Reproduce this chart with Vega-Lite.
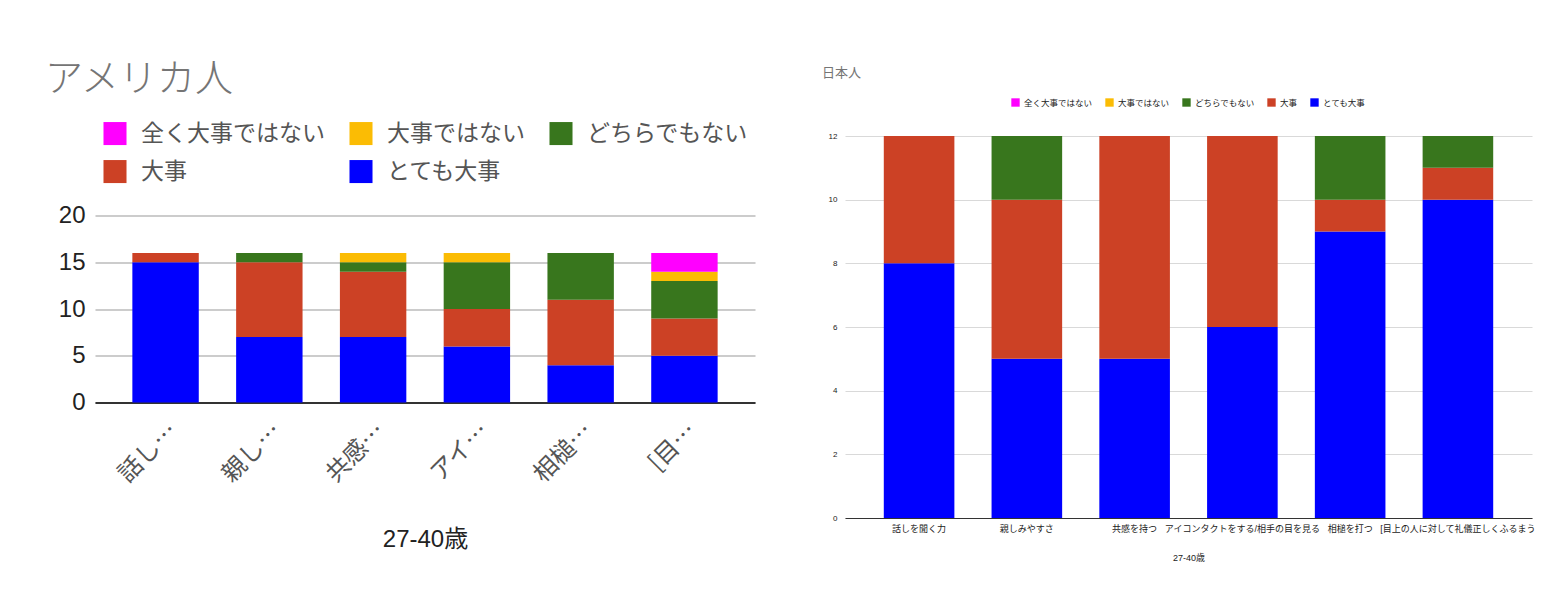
{
  "$schema": "https://vega.github.io/schema/vega-lite/v6.json",
  "background": "white",
  "padding": {"left": 45, "top": 60, "right": 0, "bottom": 0},
  "spacing": 67,
  "center": true,
  "config": {
    "font": "Liberation Sans, Noto Sans CJK JP",
    "view": {"stroke": null},
    "axis": {"labelColor": "#222", "titleColor": "#222", "titleFontWeight": "normal", "ticks": false},
    "legend": {"layout": {"top": {"anchor": "middle"}}}
  },
  "datasets": {
    "us": [
      {"item": "話しを聞く力", "answer": "とても大事", "level": 5, "count": 15},
      {"item": "話しを聞く力", "answer": "大事", "level": 4, "count": 1},
      {"item": "親しみやすさ", "answer": "とても大事", "level": 5, "count": 7},
      {"item": "親しみやすさ", "answer": "大事", "level": 4, "count": 8},
      {"item": "親しみやすさ", "answer": "どちらでもない", "level": 3, "count": 1},
      {"item": "共感を持つ", "answer": "とても大事", "level": 5, "count": 7},
      {"item": "共感を持つ", "answer": "大事", "level": 4, "count": 7},
      {"item": "共感を持つ", "answer": "どちらでもない", "level": 3, "count": 1},
      {"item": "共感を持つ", "answer": "大事ではない", "level": 2, "count": 1},
      {"item": "アイコンタクトをする/相手の目を見る", "answer": "とても大事", "level": 5, "count": 6},
      {"item": "アイコンタクトをする/相手の目を見る", "answer": "大事", "level": 4, "count": 4},
      {"item": "アイコンタクトをする/相手の目を見る", "answer": "どちらでもない", "level": 3, "count": 5},
      {"item": "アイコンタクトをする/相手の目を見る", "answer": "大事ではない", "level": 2, "count": 1},
      {"item": "相槌を打つ", "answer": "とても大事", "level": 5, "count": 4},
      {"item": "相槌を打つ", "answer": "大事", "level": 4, "count": 7},
      {"item": "相槌を打つ", "answer": "どちらでもない", "level": 3, "count": 5},
      {"item": "[目上の人に対して礼儀正しくふるまう", "answer": "とても大事", "level": 5, "count": 5},
      {"item": "[目上の人に対して礼儀正しくふるまう", "answer": "大事", "level": 4, "count": 4},
      {"item": "[目上の人に対して礼儀正しくふるまう", "answer": "どちらでもない", "level": 3, "count": 4},
      {"item": "[目上の人に対して礼儀正しくふるまう", "answer": "大事ではない", "level": 2, "count": 1},
      {"item": "[目上の人に対して礼儀正しくふるまう", "answer": "全く大事ではない", "level": 1, "count": 2}
    ],
    "jp": [
      {"item": "話しを聞く力", "answer": "とても大事", "level": 5, "count": 8},
      {"item": "話しを聞く力", "answer": "大事", "level": 4, "count": 4},
      {"item": "親しみやすさ", "answer": "とても大事", "level": 5, "count": 5},
      {"item": "親しみやすさ", "answer": "大事", "level": 4, "count": 5},
      {"item": "親しみやすさ", "answer": "どちらでもない", "level": 3, "count": 2},
      {"item": "共感を持つ", "answer": "とても大事", "level": 5, "count": 5},
      {"item": "共感を持つ", "answer": "大事", "level": 4, "count": 7},
      {"item": "アイコンタクトをする/相手の目を見る", "answer": "とても大事", "level": 5, "count": 6},
      {"item": "アイコンタクトをする/相手の目を見る", "answer": "大事", "level": 4, "count": 6},
      {"item": "相槌を打つ", "answer": "とても大事", "level": 5, "count": 9},
      {"item": "相槌を打つ", "answer": "大事", "level": 4, "count": 1},
      {"item": "相槌を打つ", "answer": "どちらでもない", "level": 3, "count": 2},
      {"item": "[目上の人に対して礼儀正しくふるまう", "answer": "とても大事", "level": 5, "count": 10},
      {"item": "[目上の人に対して礼儀正しくふるまう", "answer": "大事", "level": 4, "count": 1},
      {"item": "[目上の人に対して礼儀正しくふるまう", "answer": "どちらでもない", "level": 3, "count": 1}
    ]
  },
  "resolve": {"scale": {"color": "independent", "y": "independent", "x": "independent"}, "legend": {"color": "independent"}},
  "hconcat": [
    {
      "data": {"name": "us"},
      "width": 660,
      "height": 187,
      "title": {"text": "アメリカ人", "fontSize": 38, "fontWeight": 300, "color": "#757575", "anchor": "start", "frame": "group", "dx": -50, "offset": 23, "font": "Noto Sans CJK JP"},
      "mark": {"type": "bar"},
      "encoding": {
        "x": {
          "field": "item", "type": "nominal", "sort": null,
          "scale": {"paddingInner": 0.36, "paddingOuter": 0.36},
          "axis": {"title": "27-40歳", "titleFontSize": 24, "titlePadding": 41,
                   "labelAngle": -45, "labelFontSize": 24, "labelColor": "#555", "labelPadding": 16, "labelFont": "Noto Sans CJK JP",
                   "labelExpr": "substring(datum.label, 0, 2) + '…'",
                   "domainColor": "#333", "domainWidth": 2}
        },
        "y": {
          "field": "count", "type": "quantitative", "aggregate": "sum",
          "scale": {"domain": [0, 20]},
          "axis": {"title": null, "values": [0, 5, 10, 15, 20], "labelFontSize": 24,
                   "labelPadding": 10, "domain": false, "gridColor": "#cccccc", "gridWidth": 2}
        },
        "color": {
          "field": "answer", "type": "nominal",
          "scale": {"domain": ["全く大事ではない", "大事ではない", "どちらでもない", "大事", "とても大事"],
                    "range": ["#ff00ff", "#fbbc04", "#38761d", "#cc4125", "#0000ff"]},
          "legend": {"title": null, "orient": "top", "columns": 3, "labelFontSize": 23, "labelColor": "#555", "labelFont": "Noto Sans CJK JP",
                     "labelLimit": 400, "labelOffset": 14,
                     "symbolType": "square", "symbolSize": 530, "symbolStrokeWidth": 0, "symbolOpacity": 1,
                     "columnPadding": 24, "rowPadding": 14, "offset": 32}
        },
        "order": {"field": "level", "type": "quantitative", "sort": "descending"}
      }
    },
    {
      "data": {"name": "jp"},
      "width": 687,
      "height": 382,
      "title": {"text": "日本人", "fontSize": 13, "fontWeight": "normal", "color": "#757575", "anchor": "start", "frame": "group", "dx": -23, "offset": 18},
      "mark": {"type": "bar"},
      "encoding": {
        "x": {
          "field": "item", "type": "nominal", "sort": null,
          "scale": {"paddingInner": 0.345, "paddingOuter": 0.36},
          "axis": {"title": ["27-40歳", ""], "titleFontSize": 9, "titlePadding": 20, "titleLineHeight": 69,
                   "labelAngle": 0, "labelFontSize": 9, "labelPadding": 6, "labelLimit": 200,
                   "domainColor": "#333", "domainWidth": 1}
        },
        "y": {
          "field": "count", "type": "quantitative", "aggregate": "sum",
          "scale": {"domain": [0, 12]},
          "axis": {"title": null, "values": [0, 2, 4, 6, 8, 10, 12], "labelFontSize": 8,
                   "labelPadding": 8, "domain": false, "gridColor": "#d9d9d9", "gridWidth": 1}
        },
        "color": {
          "field": "answer", "type": "nominal",
          "scale": {"domain": ["全く大事ではない", "大事ではない", "どちらでもない", "大事", "とても大事"],
                    "range": ["#ff00ff", "#fbbc04", "#38761d", "#cc4125", "#0000ff"]},
          "legend": {"title": null, "orient": "top", "direction": "horizontal", "labelFontSize": 8.5, "labelColor": "#222",
                     "symbolType": "square", "symbolSize": 70, "symbolStrokeWidth": 0, "symbolOpacity": 1,
                     "columnPadding": 12, "offset": 29}
        },
        "order": {"field": "level", "type": "quantitative", "sort": "descending"}
      }
    }
  ]
}
